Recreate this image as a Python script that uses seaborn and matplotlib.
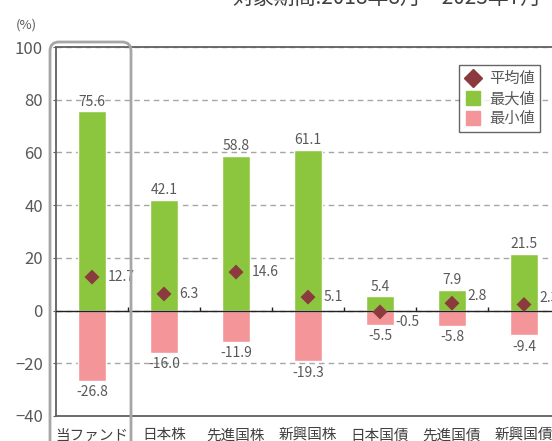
import numpy as np
import pandas as pd
import seaborn as sns
import matplotlib
matplotlib.use('Agg')
import matplotlib.pyplot as plt
from matplotlib.lines import Line2D
from matplotlib.patches import FancyBboxPatch

# data
categories = ['当ファンド', '日本株', '先進国株', '新興国株', '日本国債', '先進国債', '新興国債']
mean_vals = [12.7, 6.3, 14.6, 5.1, -0.5, 2.8, 2.3]
max_vals = [75.6, 42.1, 58.8, 61.1, 5.4, 7.9, 21.5]
min_vals = [-26.8, -16.0, -11.9, -19.3, -5.5, -5.8, -9.4]
legend_labels = ['平均値', '最大値', '最小値']
title = '対象期間:2018年8月～2023年7月'

GREEN = '#8CC63F'
PINK = '#F4959A'
RED = '#8B3A3E'
TXT = '#595959'

sns.set_style('white')
plt.rcParams['font.family'] = ['Noto Sans CJK JP', 'DejaVu Sans']

df = pd.DataFrame({'category': categories, 'mean': mean_vals,
                   'max': max_vals, 'min': min_vals})
pos = np.arange(len(df))

fig = plt.figure(figsize=(5.52, 4.41), dpi=100)
ax = fig.add_axes([56/552, 1-416/441, 504/552, 369/441])

sns.barplot(data=df, x='category', y='max', color=GREEN, saturation=1, width=0.39, ax=ax, zorder=2)
sns.barplot(data=df, x='category', y='min', color=PINK, saturation=1, width=0.39, ax=ax, zorder=2)
sns.scatterplot(x=pos, y=df['mean'], marker='D', s=58, color=RED, edgecolor='none', zorder=5, ax=ax)

# zero line with small upward ticks between categories
ax.axhline(0, color='#222222', lw=1, zorder=4)
ax.vlines(pos + 0.5, 0, 1.3, color='#222222', lw=1, zorder=4)

# value labels
for i, r in df.iterrows():
    ax.annotate(f"{r['max']:.1f}", (i, r['max']), xytext=(0, 2), textcoords='offset points',
                ha='center', va='bottom', fontsize=10, color=TXT)
    ax.annotate(f"{r['min']:.1f}", (i, r['min']), xytext=(0, -3), textcoords='offset points',
                ha='center', va='top', fontsize=10, color=TXT)
    dy = 0
    if 0 <= r['mean'] < 4:
        dy = 5
    elif r['mean'] < 0:
        dy = -7
    ax.annotate(f"{r['mean']:.1f}", (i, r['mean']), xytext=(11, dy), textcoords='offset points',
                ha='left', va='center', fontsize=10, color=TXT)

ax.set_xlim(-0.5, len(df) - 0.5)
ax.set_ylim(-40, 100)
ax.set_yticks(np.arange(-40, 101, 20))
ax.yaxis.grid(True, linestyle=(0, (4, 3)), color='#A6A6A6', lw=1)
ax.set_axisbelow(True)
ax.set_xlabel('')
ax.set_ylabel('')
ax.tick_params(axis='x', length=0, pad=9, labelsize=10.5, labelcolor='#404040')
ax.tick_params(axis='y', left=True, length=2.5, pad=7, labelsize=12, labelcolor=TXT, color='#606060')
for s in ax.spines.values():
    s.set_color('#606060')
    s.set_linewidth(1.3)

# highlight box round the fund
box = FancyBboxPatch((0.50, -0.3), 0.81, 4.29, boxstyle='round,pad=0,rounding_size=0.09',
                     transform=fig.dpi_scale_trans, fill=False, ec='#A6A6A6', lw=2, clip_on=False)
fig.patches.append(box)

handles = [Line2D([], [], marker='D', ls='none', color=RED, markersize=9),
           Line2D([], [], marker='s', ls='none', color=GREEN, markersize=10),
           Line2D([], [], marker='s', ls='none', color=PINK, markersize=10)]
leg = fig.legend(handles, legend_labels, loc='upper right', bbox_to_anchor=(548/552, 1-57/441),
                 frameon=True, fancybox=False, edgecolor='#404040', fontsize=11,
                 handlelength=1.1, borderpad=0.35, labelspacing=0.2, handletextpad=0.5)
leg.get_frame().set_linewidth(1)
for t in leg.get_texts():
    t.set_color(TXT)

fig.text(26/552, 1-25/441, '(%)', ha='center', va='center', fontsize=9.5, color=TXT)
fig.text(232/552, 1-4/441, title, ha='left', va='baseline', fontsize=15, color='#404040')

fig.savefig('out.png', dpi=100)
